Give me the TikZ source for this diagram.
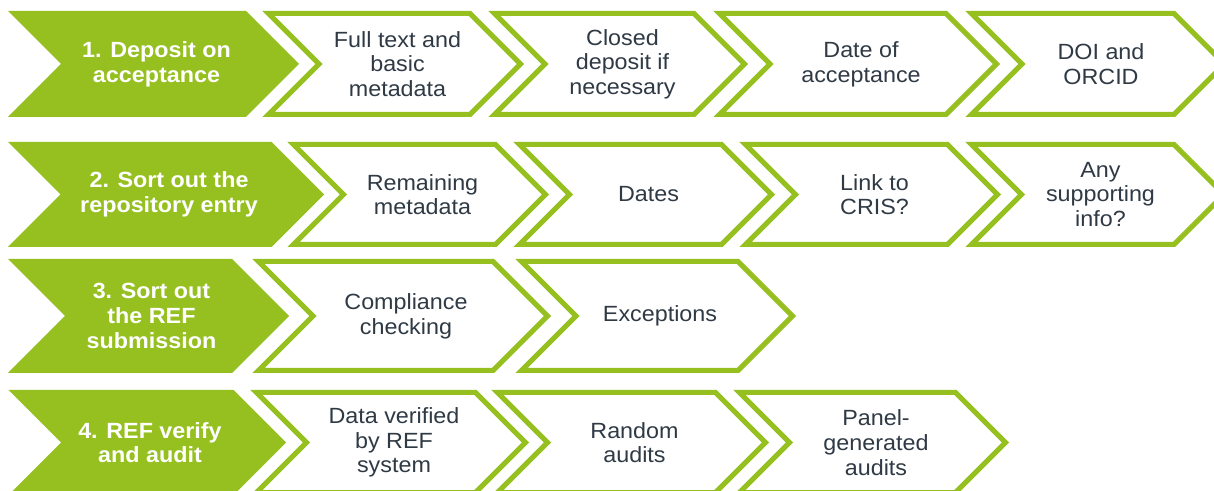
\documentclass[tikz,border=0pt]{standalone}
\usepackage{fontspec}
\setmainfont{Liberation Sans}[FakeStretch=1.06]
\definecolor{brandgreen}{RGB}{149,192,31}
\definecolor{textdark}{RGB}{47,58,69}
\tikzset{
  gchev/.style={fill=brandgreen, draw=none},
  wchev/.style={fill=white, draw=brandgreen, line width=3.75pt, line join=miter, miter limit=10},
  wlabel/.style={align=center, text=textdark, font=\fontsize{16.5}{18.5}\selectfont, inner sep=0pt},
  glabel/.style={align=center, text=white, font=\bfseries\fontsize{16.5}{18.5}\selectfont, inner sep=0pt},
}
% #1 style, #2 left x, #3 tip x, #4 top y, #5 bottom y
\newcommand\mychev[5]{%
  \pgfmathsetmacro\chevhh{(#5-#4)/2}%
  \draw[#1] (#2,#4) -- ({#3-\chevhh},#4) -- (#3,{#4+\chevhh}) -- ({#3-\chevhh},#5)
    -- (#2,#5) -- ({#2+\chevhh},{#4+\chevhh}) -- cycle;}
\begin{document}
\begin{tikzpicture}[x=0.75pt,y=-0.75pt]
\useasboundingbox (0,0) rectangle (1214,491);
\clip (0,0) rectangle (1214,491);
\fill[white] (0,0) rectangle (1214,491);
% Row 1
\mychev{gchev}{8}{299}{11}{117}
\mychev{wchev}{268.5}{520.5}{13.5}{114.5}
\mychev{wchev}{494.5}{744.5}{13.5}{114.5}
\mychev{wchev}{719.5}{996.5}{13.5}{114.5}
\mychev{wchev}{971.5}{1224.5}{13.5}{114.5}
\node[glabel] (s1) at (156.5,64) {1. Deposit on\\acceptance};
\node[wlabel] (s1a) at (397.5,64) {Full text and\\basic\\metadata};
\node[wlabel] (s1b) at (622.5,64) {Closed\\deposit if\\necessary};
\node[wlabel] (s1c) at (861,64) {Date of\\acceptance};
\node[wlabel] (s1d) at (1101,64) {DOI and\\ORCID};
% Row 2
\mychev{gchev}{8}{324}{142}{247}
\mychev{wchev}{293.5}{545.5}{144.5}{244.5}
\mychev{wchev}{519.5}{771.5}{144.5}{244.5}
\mychev{wchev}{745.5}{997.5}{144.5}{244.5}
\mychev{wchev}{971.5}{1224}{144.5}{244.5}
\node[glabel] (s2) at (169,194.5) {2. Sort out the\\repository entry};
\node[wlabel] (s2a) at (422.5,194.5) {Remaining\\metadata};
\node[wlabel] (s2b) at (648.5,194.5) {Dates};
\node[wlabel] (s2c) at (874.5,194.5) {Link to\\CRIS?};
\node[wlabel] (s2d) at (1100.5,194.5) {Any\\supporting\\info?};
% Row 3
\mychev{gchev}{8}{289}{259}{373}
\mychev{wchev}{258.5}{547.5}{261.5}{370.5}
\mychev{wchev}{521.5}{792.5}{261.5}{370.5}
\node[glabel] (s3) at (151.5,316) {3. Sort out\\the REF\\submission};
\node[wlabel] (s3a) at (406,316) {Compliance\\checking};
\node[wlabel] (s3b) at (660,316) {Exceptions};
% Row 4
\mychev{gchev}{8.5}{286}{390}{495}
\mychev{wchev}{256.5}{525.5}{392.5}{492.5}
\mychev{wchev}{497.5}{765.5}{392.5}{492.5}
\mychev{wchev}{739.5}{1005.5}{392.5}{492.5}
\node[glabel] (s4) at (150,442.5) {4. REF verify\\and audit};
\node[wlabel] (s4a) at (394,442.5) {Data verified\\by REF\\system};
\node[wlabel] (s4b) at (634.5,442.5) {Random\\audits};
\node[wlabel] (s4c) at (876,442.5) {Panel-\\generated\\audits};
\end{tikzpicture}
\end{document}
